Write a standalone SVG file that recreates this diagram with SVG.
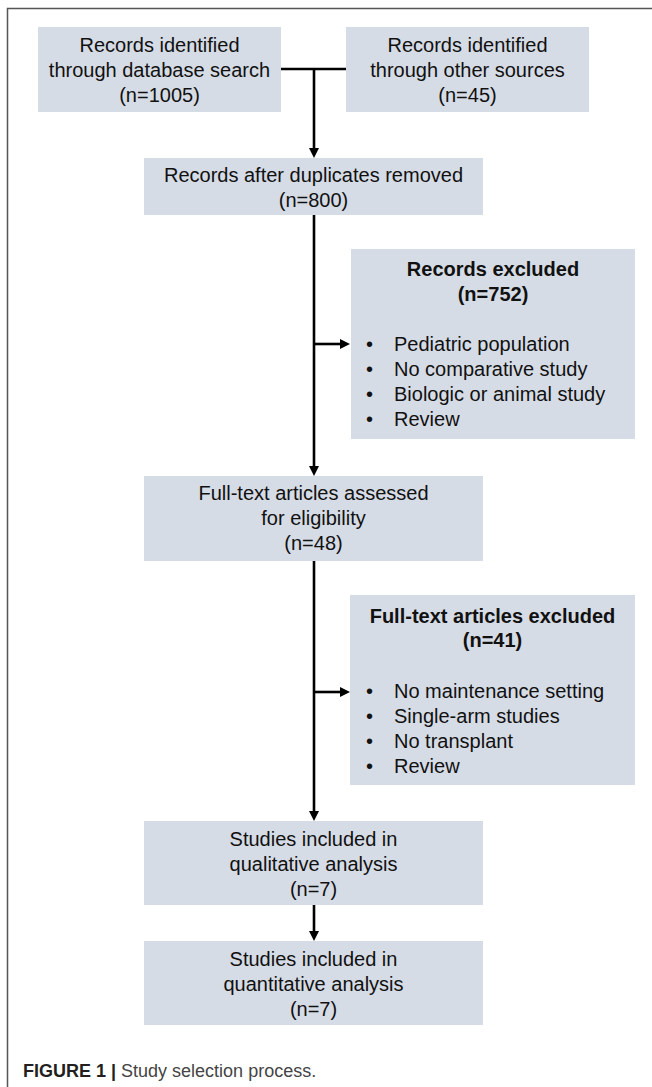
<svg xmlns="http://www.w3.org/2000/svg" width="652" height="1087" viewBox="0 0 652 1087">
<style>
.box{fill:#d6dce5}
text{font-family:"Liberation Sans",Arial,sans-serif;font-size:20px;fill:#111}
.c{text-anchor:middle}
.b{font-weight:bold}
.conn{stroke:#000;stroke-width:2.6;fill:none}
.frame{stroke:#555;stroke-width:1.5;fill:none}
</style>
<defs>
<marker id="ah" markerWidth="11" markerHeight="11" refX="6" refY="5" orient="auto" markerUnits="userSpaceOnUse">
<path d="M0,0 L10,5 L0,10 z" fill="#000"/>
</marker>
</defs>
<path class="frame" d="M7.5,1087 V8.5 H652"/>
<g id="connectors">
<path class="conn" d="M281,69 H346"/>
<path class="conn" d="M314,69 V154" marker-end="url(#ah)"/>
<path class="conn" d="M314,215 V472" marker-end="url(#ah)"/>
<path class="conn" d="M314,344 H346" marker-end="url(#ah)"/>
<path class="conn" d="M314,561 V817" marker-end="url(#ah)"/>
<path class="conn" d="M314,692 H346" marker-end="url(#ah)"/>
<path class="conn" d="M314,905 V937" marker-end="url(#ah)"/>
</g>
<g id="n-database">
<rect class="box" x="38" y="27" width="243" height="85"/>
<text class="c" x="159.5" y="52">Records identified</text>
<text class="c" x="159.5" y="77">through database search</text>
<text class="c" x="159.5" y="102">(n=1005)</text>
</g>
<g id="n-other">
<rect class="box" x="346" y="27" width="243" height="85"/>
<text class="c" x="467.5" y="52">Records identified</text>
<text class="c" x="467.5" y="77">through other sources</text>
<text class="c" x="467.5" y="102">(n=45)</text>
</g>
<g id="n-dedup">
<rect class="box" x="144" y="158" width="339" height="57"/>
<text class="c" x="313.5" y="182">Records after duplicates removed</text>
<text class="c" x="313.5" y="207">(n=800)</text>
</g>
<g id="n-excluded">
<rect class="box" x="351" y="249" width="284" height="190"/>
<text class="c b" x="493" y="276">Records excluded</text>
<text class="c b" x="493" y="301">(n=752)</text>
<text x="366" y="351">•</text><text x="394" y="351">Pediatric population</text>
<text x="366" y="376">•</text><text x="394" y="376">No comparative study</text>
<text x="366" y="401">•</text><text x="394" y="401">Biologic or animal study</text>
<text x="366" y="426">•</text><text x="394" y="426">Review</text>
</g>
<g id="n-fulltext">
<rect class="box" x="144" y="476" width="339" height="85"/>
<text class="c" x="313.5" y="500">Full-text articles assessed</text>
<text class="c" x="313.5" y="525">for eligibility</text>
<text class="c" x="313.5" y="550">(n=48)</text>
</g>
<g id="n-ftexcluded">
<rect class="box" x="350" y="595" width="285" height="190"/>
<text class="c b" x="492.5" y="623">Full-text articles excluded</text>
<text class="c b" x="492.5" y="647">(n=41)</text>
<text x="366" y="698">•</text><text x="394" y="698">No maintenance setting</text>
<text x="366" y="723">•</text><text x="394" y="723">Single-arm studies</text>
<text x="366" y="748">•</text><text x="394" y="748">No transplant</text>
<text x="366" y="773">•</text><text x="394" y="773">Review</text>
</g>
<g id="n-qualitative">
<rect class="box" x="144" y="821" width="339" height="84"/>
<text class="c" x="313.5" y="846">Studies included in</text>
<text class="c" x="313.5" y="871">qualitative analysis</text>
<text class="c" x="313.5" y="896">(n=7)</text>
</g>
<g id="n-quantitative">
<rect class="box" x="144" y="941" width="339" height="84"/>
<text class="c" x="313.5" y="966">Studies included in</text>
<text class="c" x="313.5" y="991">quantitative analysis</text>
<text class="c" x="313.5" y="1016">(n=7)</text>
</g>
<text x="23" y="1077" style="font-size:18px"><tspan font-weight="bold" fill="#231f20">FIGURE 1</tspan><tspan fill="#231f20" font-weight="bold"> | </tspan><tspan fill="#444">Study selection process.</tspan></text>
</svg>
